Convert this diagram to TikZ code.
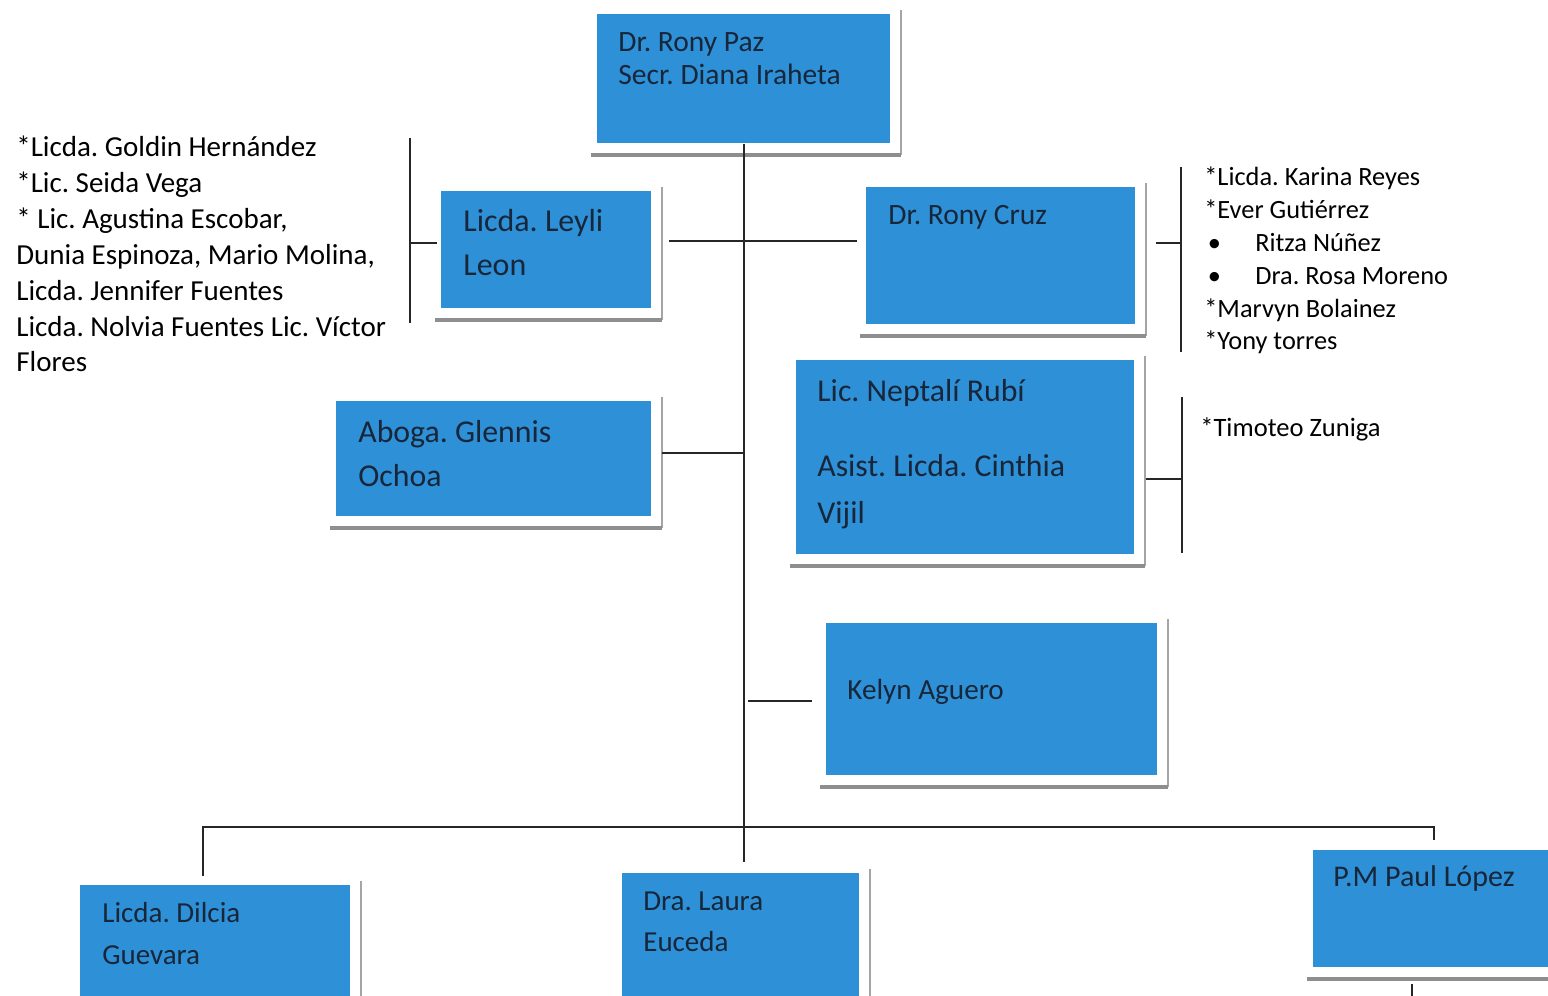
\documentclass[tikz,border=0pt]{standalone}
\usepackage{fontspec}
\setmainfont{Carlito}
\frenchspacing
\usetikzlibrary{positioning}
\definecolor{boxblue}{HTML}{2E90D6}
\definecolor{boxink}{HTML}{18263A}
\definecolor{shadegrey}{HTML}{8E8E8E}
\def\pu{0.02cm}
\tikzset{
  orgbox/.style={fill=boxblue, rectangle, inner sep=0pt, anchor=north west},
  boxtext/.style={text=boxink, align=left, inner sep=0pt, anchor=base west},
  namelist/.style={text=black, align=left, inner sep=0pt, anchor=base west},
  link/.style={draw=black!85, line width=1.2pt},
  shadeside/.style={draw=shadegrey!80, line width=1pt},
  shadebase/.style={draw=shadegrey, line width=2.4pt},
}
\begin{document}
\begin{tikzpicture}[x=0.02cm, y=-0.02cm]
      \useasboundingbox (0,0) rectangle (1548,996);
      \fill[white] (0,0) rectangle (1548,996);
      \clip (0,0) rectangle (1548,996);
      %
      % blue boxes
      \node[orgbox, minimum width=293*\pu, minimum height=129*\pu] (paz) at (597,14) {};
      \node[orgbox, minimum width=210*\pu, minimum height=117*\pu] (leyli) at (441,191) {};
      \node[orgbox, minimum width=269*\pu, minimum height=137*\pu] (cruz) at (866,187) {};
      \node[orgbox, minimum width=315*\pu, minimum height=115*\pu] (glennis) at (336,401) {};
      \node[orgbox, minimum width=338*\pu, minimum height=194*\pu] (neptali) at (796,360) {};
      \node[orgbox, minimum width=331*\pu, minimum height=152*\pu] (kelyn) at (826,623) {};
      \node[orgbox, minimum width=270*\pu, minimum height=160*\pu] (dilcia) at (80,885) {};
      \node[orgbox, minimum width=237*\pu, minimum height=160*\pu] (laura) at (622,873) {};
      \node[orgbox, minimum width=250*\pu, minimum height=117*\pu] (paul) at (1313,850) {};
      %
      % shadow lines
      \foreach \b in {paz,leyli,cruz,glennis,neptali,kelyn,dilcia,laura,paul} {
        \draw[shadeside] ([xshift=10*\pu, yshift=4*\pu]\b.north east) -- ([xshift=10*\pu, yshift=-11*\pu]\b.south east);
        \draw[shadebase] ([xshift=-6*\pu, yshift=-11*\pu]\b.south west) -- ([xshift=10*\pu, yshift=-11*\pu]\b.south east);
      }
      %
      % box texts (anchored at the baseline of the last line)
      \node[boxtext, font=\fontsize{16.8}{19.3}\selectfont] (paztext) at (618,85) {Dr. Rony Paz\\Secr. Diana Iraheta};
      \node[boxtext, font=\fontsize{18.2}{25.5}\selectfont] (leylitext) at (463,276) {Licda. Leyli\\Leon};
      \node[boxtext, font=\fontsize{16.8}{20}\selectfont] (cruztext) at (888,225) {Dr. Rony Cruz};
      \node[boxtext, font=\fontsize{18.1}{25.5}\selectfont] (glennistext) at (358,487) {Aboga. Glennis\\Ochoa};
      \node[boxtext, font=\fontsize{18.1}{26.6}\selectfont] (neptalitext) at (817,523) {Lic. Neptalí Rubí\\[15.9pt]Asist. Licda. Cinthia\\Vijil};
      \node[boxtext, font=\fontsize{16.6}{20}\selectfont] (kelyntext) at (847,699) {Kelyn Aguero};
      \node[boxtext, font=\fontsize{16.5}{23.8}\selectfont] (dilciatext) at (102,964) {Licda. Dilcia\\Guevara};
      \node[boxtext, font=\fontsize{16.5}{23.2}\selectfont] (lauratext) at (643,951) {Dra. Laura\\Euceda};
      \node[boxtext, font=\fontsize{17.1}{20}\selectfont] (paultext) at (1333,886) {P.M Paul López};
      %
      % name lists
      \node[namelist, font=\fontsize{16.5}{20.4}\selectfont] (leftlist) at (16,372) {*Licda. Goldin Hernández\\*Lic. Seida Vega\\* Lic. Agustina Escobar,\\Dunia Espinoza, Mario Molina,\\Licda. Jennifer Fuentes\\Licda. Nolvia Fuentes Lic. Víctor\\Flores};
      \node[namelist, font=\fontsize{15}{18.7}\selectfont] (rightlist) at (1204,350) {*Licda. Karina Reyes\\*Ever Gutiérrez\\\hspace*{2pt}\makebox[27pt][l]{\textbullet}Ritza Núñez\\\hspace*{2pt}\makebox[27pt][l]{\textbullet}Dra. Rosa Moreno\\*Marvyn Bolainez\\*Yony torres};
      \node[namelist, font=\fontsize{15.1}{18.7}\selectfont] (timoteo) at (1200,437) {*Timoteo Zuniga};
      %
      % bracket coordinates
      \coordinate (leylibrk) at (410,243);
      \coordinate (cruzbrk) at (1181,243);
      \coordinate (neptalibrk) at (1182,479);
      \coordinate (barL) at (203,827);
      \coordinate (barR) at (1434,827);
      %
      % connectors
      \draw[link] (paz.south) -- ([yshift=11*\pu]paz.south |- laura.north);
      \draw[link] ([xshift=17*\pu]leyli.east |- 0,241) -- ([xshift=-9*\pu]cruz.west |- 0,241);
      \draw[link] ([xshift=10*\pu]glennis.east |- 0,453) -- (paz.south |- 0,453);
      \draw[link] ([xshift=4*\pu]paz.south |- 0,701) -- ([xshift=-14*\pu]kelyn.west |- 0,701);
      %
      \draw[link] ([xshift=-4*\pu]leyli.west |- leylibrk) -- (leylibrk);
      \draw[link] (leylibrk |- 0,138) -- (leylibrk |- 0,323);
      \draw[link] ([xshift=20*\pu]cruz.east |- cruzbrk) -- (cruzbrk);
      \draw[link] (cruzbrk |- 0,167) -- (cruzbrk |- 0,352);
      \draw[link] ([xshift=11*\pu]neptali.east |- neptalibrk) -- (neptalibrk);
      \draw[link] (neptalibrk |- 0,397) -- (neptalibrk |- 0,553);
      %
      \draw[link] ([yshift=9*\pu]dilcia.north west -| barL) -- (barL) -- (barR) -- ([yshift=10*\pu]paul.north -| barR);
      \draw[link] ([yshift=-16*\pu]paul.south -| 1412,0) -- ++(0,20);
      %
    \end{tikzpicture}
\end{document}
